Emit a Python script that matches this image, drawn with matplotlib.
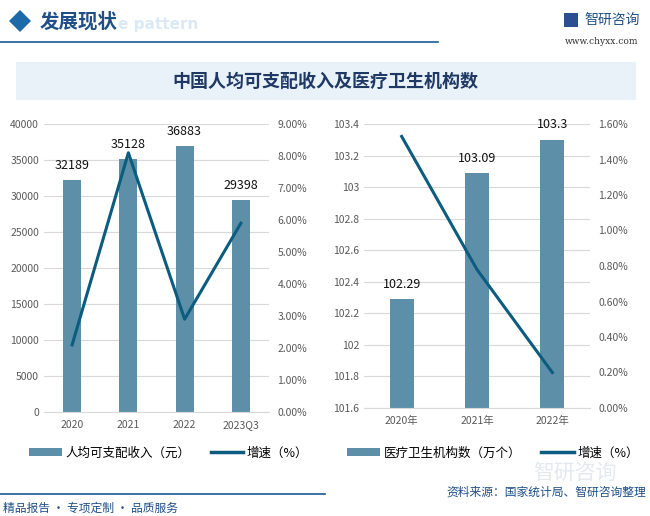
import matplotlib
matplotlib.use("Agg")
import matplotlib.pyplot as plt
from matplotlib.patches import Rectangle, Polygon
from matplotlib.lines import Line2D

plt.rcParams["font.family"] = ["Noto Sans CJK SC", "DejaVu Sans"]

# 左图: 人均可支配收入
income_years = ["2020", "2021", "2022", "2023Q3"]
income_values = [32189, 35128, 36883, 29398]
income_growth = [2.1, 8.1, 2.9, 5.9]

# 右图: 医疗卫生机构数
inst_years = ["2020年", "2021年", "2022年"]
inst_values = [102.29, 103.09, 103.3]
inst_growth = [1.53, 0.78, 0.2]

BAR_COLOR = "#5d90a8"
LINE_COLOR = "#0b5c7e"
GRID_COLOR = "#d9d9d9"
TICK_COLOR = "#595959"
DARK_BLUE = "#1a5b94"

W, H = 650, 516
fig = plt.figure(figsize=(6.5, 5.16), dpi=100)


def px(x, y):
    return x / W, 1 - y / H


# === 页眉 ===
fig.patches.append(Polygon([px(9, 21), px(20, 10), px(31, 21), px(20, 32)],
                           closed=True, transform=fig.transFigure,
                           facecolor="#1d6aa8", edgecolor="none"))
fig.text(*px(40, 22), "发展现状", fontsize=14, fontweight="bold",
         color="#1f4f86", ha="left", va="center")
fig.text(*px(118, 25), "e pattern", fontsize=11, fontweight="bold",
         color="#dbe9f5", ha="left", va="center", family="DejaVu Sans")
fig.add_artist(Line2D([0, 438 / W], [1 - 42 / H] * 2, transform=fig.transFigure,
                      color=DARK_BLUE, linewidth=1.2))
fig.text(*px(584, 20), "智研咨询", fontsize=10, color="#1f4f86",
         ha="left", va="center")
fig.patches.append(Rectangle(px(564, 27), 14 / W, 14 / H, transform=fig.transFigure,
                             facecolor="#2c4f8f", edgecolor="none"))
fig.text(*px(638, 42), "www.chyxx.com", fontsize=6.5, color="#333333",
         ha="right", va="center", family="DejaVu Serif")

# === 标题栏 ===
fig.patches.append(Rectangle(px(16, 100), 620 / W, 38 / H, transform=fig.transFigure,
                             facecolor="#e9f2f9", edgecolor="none"))
fig.text(*px(325, 81), "中国人均可支配收入及医疗卫生机构数", fontsize=13,
         fontweight="bold", color="#1f3864", ha="center", va="center")


def style_axes(ax, ax2):
    for a in (ax, ax2):
        for s in ("top", "left", "right"):
            a.spines[s].set_visible(False)
        a.tick_params(length=0, labelsize=7.5, colors=TICK_COLOR)
    ax.spines["bottom"].set_color(GRID_COLOR)
    ax2.spines["bottom"].set_visible(False)
    ax.grid(axis="y", color=GRID_COLOR, linewidth=0.8)
    ax.set_axisbelow(True)


# === 左图 ===
ax1 = fig.add_axes([44 / W, 1 - 412 / H, 225 / W, 288 / H])
ax1b = ax1.twinx()
x1 = range(len(income_years))
ax1.bar(x1, income_values, width=0.32, color=BAR_COLOR, zorder=2)
for x, v in zip(x1, income_values):
    ax1.annotate(f"{v}", (x, v), textcoords="offset points", xytext=(0, 6),
                 ha="center", va="bottom", fontsize=9, color="#111111")
ax1b.plot(list(x1), income_growth, color=LINE_COLOR, linewidth=2.2, zorder=3)
ax1.set_ylim(0, 40000)
ax1.set_yticks(range(0, 40001, 5000))
ax1b.set_ylim(0, 9)
ax1b.set_yticks(range(0, 10))
ax1b.set_yticklabels([f"{v:.2f}%" for v in range(0, 10)])
ax1.set_xlim(-0.5, 3.5)
ax1.set_xticks(list(x1))
ax1.set_xticklabels(income_years)
ax1.tick_params(axis="x", pad=6)
ax1b.tick_params(axis="y", pad=6)
style_axes(ax1, ax1b)

# === 右图 ===
ax2 = fig.add_axes([364 / W, 1 - 408 / H, 226 / W, 284 / H])
ax2b = ax2.twinx()
x2 = range(len(inst_years))
ax2.bar(x2, inst_values, width=0.32, color=BAR_COLOR, zorder=2)
for x, v in zip(x2, inst_values):
    ax2.annotate(f"{v:g}", (x, v), textcoords="offset points", xytext=(0, 6),
                 ha="center", va="bottom", fontsize=9, color="#111111")
ax2b.plot(list(x2), inst_growth, color=LINE_COLOR, linewidth=2.2, zorder=3)
ax2.set_ylim(101.6, 103.4)
r_ticks = [round(101.6 + 0.2 * i, 1) for i in range(10)]
ax2.set_yticks(r_ticks)
ax2.set_yticklabels([f"{t:g}" for t in r_ticks])
ax2b.set_ylim(0, 1.6)
g_ticks = [0.2 * i for i in range(9)]
ax2b.set_yticks(g_ticks)
ax2b.set_yticklabels([f"{t:.2f}%" for t in g_ticks])
ax2.set_xlim(-0.5, 2.5)
ax2.set_xticks(list(x2))
ax2.set_xticklabels(inst_years)
ax2.tick_params(axis="x", pad=6)
ax2b.tick_params(axis="y", pad=6)
style_axes(ax2, ax2b)

# === 图例 ===
bar_h = Rectangle((0, 0), 1, 1, facecolor=BAR_COLOR)
line_h = Line2D([], [], color=LINE_COLOR, linewidth=2.5)
fig.legend([bar_h, line_h], ["人均可支配收入（元）", "增速（%）"],
           loc="center left", bbox_to_anchor=px(18, 453), ncol=2, frameon=False,
           fontsize=9, handlelength=2.6, handleheight=0.6, columnspacing=1.6,
           handletextpad=0.3)
fig.legend([bar_h, line_h], ["医疗卫生机构数（万个）", "增速（%）"],
           loc="center left", bbox_to_anchor=px(336, 453), ncol=2, frameon=False,
           fontsize=9, handlelength=2.6, handleheight=0.6, columnspacing=1.6,
           handletextpad=0.3)

# === 水印 ===
fig.text(*px(575, 473), "智研咨询", fontsize=15, color="#e3e9ef",
         ha="center", va="center", zorder=0)

# === 页脚 ===
fig.add_artist(Line2D([0, 325 / W], [1 - 494 / H] * 2, transform=fig.transFigure,
                      color=DARK_BLUE, linewidth=1.2))
fig.text(*px(646, 492), "资料来源：国家统计局、智研咨询整理", fontsize=8.5,
         color="#1f4f86", ha="right", va="center")
fig.text(*px(3, 508), "精品报告 · 专项定制 · 品质服务", fontsize=8.5,
         color="#1f4f86", ha="left", va="center")

fig.savefig("out.png", dpi=100)
